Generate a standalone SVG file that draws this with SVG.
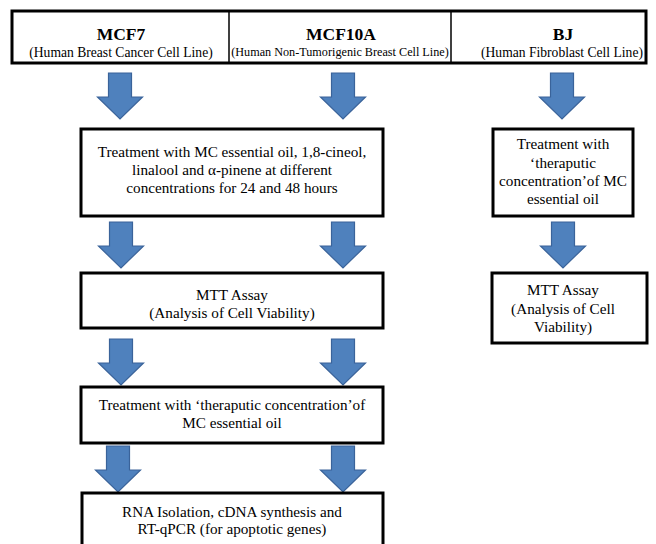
<svg xmlns="http://www.w3.org/2000/svg" width="656" height="544" viewBox="0 0 656 544" font-family="'Liberation Serif', 'Times New Roman', Times, 'DejaVu Serif', serif">
<defs>
<style>
.box{fill:#fff;stroke:#000;stroke-width:3}
.div{stroke:#000;stroke-width:1.5}
.arr{fill:#4F81BD;stroke:#3A639A;stroke-width:1.2;stroke-linejoin:miter}
text{fill:#000;text-anchor:middle}
.h{font-size:17.5px;font-weight:bold}
.s{font-size:13.6px}
.s2{font-size:12.2px}
.t{font-size:15.2px}
</style>
<path id="a" d="M-11.5,0 H11.5 V24 H22.5 L0,46 L-22.5,24 H-11.5 Z"/>
</defs>
<g id="header">
<rect class="box" x="12" y="11" width="634" height="52"/>
<line class="div" x1="229" y1="11" x2="229" y2="63"/>
<line class="div" x1="451" y1="11" x2="451" y2="63"/>
</g>
<g id="mcf7">
<text class="h" x="121" y="40">MCF7</text>
<text class="s" x="121" y="57">(Human Breast Cancer Cell Line)</text>
</g>
<g id="mcf10a">
<text class="h" x="341" y="40">MCF10A</text>
<text class="s2" x="340" y="56">(Human Non-Tumorigenic Breast Cell Line)</text>
</g>
<g id="bj">
<text class="h" x="563" y="40">BJ</text>
<text class="s" x="562" y="57">(Human Fibroblast Cell Line)</text>
</g>
<g id="connectors">
<use href="#a" class="arr" x="120" y="73"/>
<use href="#a" class="arr" x="343" y="73"/>
<use href="#a" class="arr" x="562" y="73"/>
<use href="#a" class="arr" x="121" y="222"/>
<use href="#a" class="arr" x="343" y="222"/>
<use href="#a" class="arr" x="563" y="222"/>
<use href="#a" class="arr" x="121" y="339"/>
<use href="#a" class="arr" x="343" y="339"/>
<use href="#a" class="arr" x="118" y="446"/>
<use href="#a" class="arr" x="343" y="446"/>
</g>
<g id="treatment">
<rect class="box" x="81" y="129" width="302" height="87"/>
<text class="t" x="232" y="157">Treatment with MC essential oil, 1,8-cineol,</text>
<text class="t" x="232" y="175">linalool and α-pinene at different</text>
<text class="t" x="232" y="193">concentrations for 24 and 48 hours</text>
</g>
<g id="mtt">
<rect class="box" x="81" y="273" width="302" height="55"/>
<text class="t" x="232" y="300">MTT Assay</text>
<text class="t" x="232" y="318">(Analysis of Cell Viability)</text>
</g>
<g id="therapeutic">
<rect class="box" x="81" y="387" width="302" height="56"/>
<text class="t" x="232" y="410">Treatment with ‘theraputic concentration’of</text>
<text class="t" x="232" y="428">MC essential oil</text>
</g>
<g id="rna">
<rect class="box" x="82" y="493" width="301" height="60"/>
<text class="t" x="232" y="517">RNA Isolation, cDNA synthesis and</text>
<text class="t" x="232" y="534">RT-qPCR (for apoptotic genes)</text>
</g>
<g id="bj-treatment">
<rect class="box" x="493" y="129" width="140" height="87"/>
<text class="t" x="563" y="149">Treatment with</text>
<text class="t" x="563" y="168">‘theraputic</text>
<text class="t" x="563" y="186">concentration’of  MC</text>
<text class="t" x="563" y="204">essential oil</text>
</g>
<g id="bj-mtt">
<rect class="box" x="492" y="273" width="155" height="70"/>
<text class="t" x="563" y="295">MTT Assay</text>
<text class="t" x="563" y="314">(Analysis of Cell</text>
<text class="t" x="563" y="332">Viability)</text>
</g>
</svg>
